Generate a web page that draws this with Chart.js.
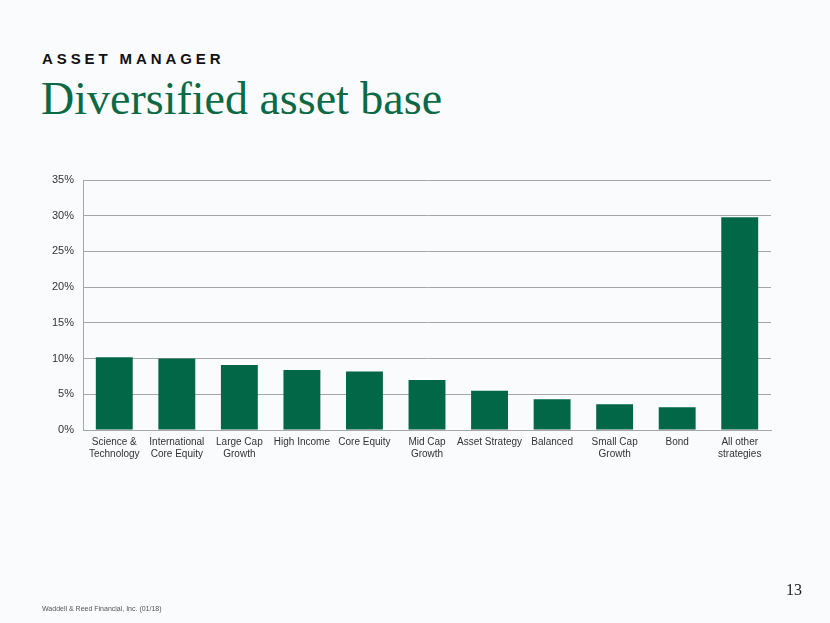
<!DOCTYPE html>
<html>
<head>
<meta charset="utf-8">
<script src="https://cdn.jsdelivr.net/npm/chart.js@4.4.1/dist/chart.umd.min.js"></script>
<style>
  html, body { margin: 0; padding: 0; background: #fafbfd; }
  #pagina { position: relative; width: 830px; height: 623px; overflow: hidden; }
  #grafico { position: absolute; left: 0; top: 0; }
  .kicker { position: absolute; left: 42px; top: 50px; font: bold 15px "Liberation Sans", Arial, sans-serif; letter-spacing: 3.9px; color: #111; }
  .titulo { position: absolute; left: 41px; top: 72px; font: 46px "Liberation Serif", "Times New Roman", serif; color: #0b6a45; white-space: nowrap; }
  .rodape { position: absolute; left: 42px; top: 605px; font: 7px "Liberation Sans", Arial, sans-serif; color: #555; }
  .numero { position: absolute; left: 786px; top: 581px; font: 16px "Liberation Serif", serif; color: #222; }
</style>
</head>
<body>
<div id="pagina">
  <div class="kicker">ASSET MANAGER</div>
  <div class="titulo">Diversified asset base</div>
  <canvas id="grafico" width="830" height="623"></canvas>
  <div class="numero">13</div>
  <div class="rodape">Waddell &amp; Reed Financial, Inc. (01/18)</div>
</div>
<script>
// estratégias e participação no total de ativos (%)
const estrategias = [
    ['Science &', 'Technology'],
    ['International', 'Core Equity'],
    ['Large Cap', 'Growth'],
    'High Income',
    'Core Equity',
    ['Mid Cap', 'Growth'],
    'Asset Strategy',
    'Balanced',
    ['Small Cap', 'Growth'],
    'Bond',
    ['All other', 'strategies']
];
const participacao = [10.2, 10.0, 9.1, 8.4, 8.2, 7.0, 5.5, 4.3, 3.6, 3.2, 29.8];
const ticksY = [0, 5, 10, 15, 20, 25, 30, 35];

const verde = '#016747';

const ctx = document.getElementById('grafico').getContext('2d');
new Chart(ctx, {
    type: 'bar',
    data: {
        labels: estrategias,
        datasets: [{
            data: participacao,
            backgroundColor: verde,
            borderWidth: 0,
            categoryPercentage: 1,
            barPercentage: 0.59
        }]
    },
    options: {
        responsive: false,
        animation: false,
        layout: { padding: { left: 20, right: 59, top: 180, bottom: 153 } },
        plugins: { legend: { display: false }, tooltip: { enabled: false } },
        scales: {
            x: {
                grid: { display: false, drawTicks: false },
                border: { color: '#a6a6a6', width: 1 },
                ticks: {
                    color: '#333',
                    font: { family: 'Liberation Sans, Arial', size: 10 },
                    padding: 6,
                    maxRotation: 0,
                    autoSkip: false
                },
                afterFit: scale => { scale.height = 40; }
            },
            y: {
                min: 0,
                max: 35,
                afterBuildTicks: scale => { scale.ticks = ticksY.map(v => ({ value: v })); },
                grid: { color: '#a6a6a6', lineWidth: 1, drawTicks: false },
                border: { color: '#a6a6a6', width: 1 },
                ticks: {
                    color: '#333',
                    font: { family: 'Liberation Sans, Arial', size: 11 },
                    padding: 9,
                    callback: v => v + '%'
                },
                afterFit: scale => { scale.width = 63; }
            }
        }
    }
});
</script>
</body>
</html>
